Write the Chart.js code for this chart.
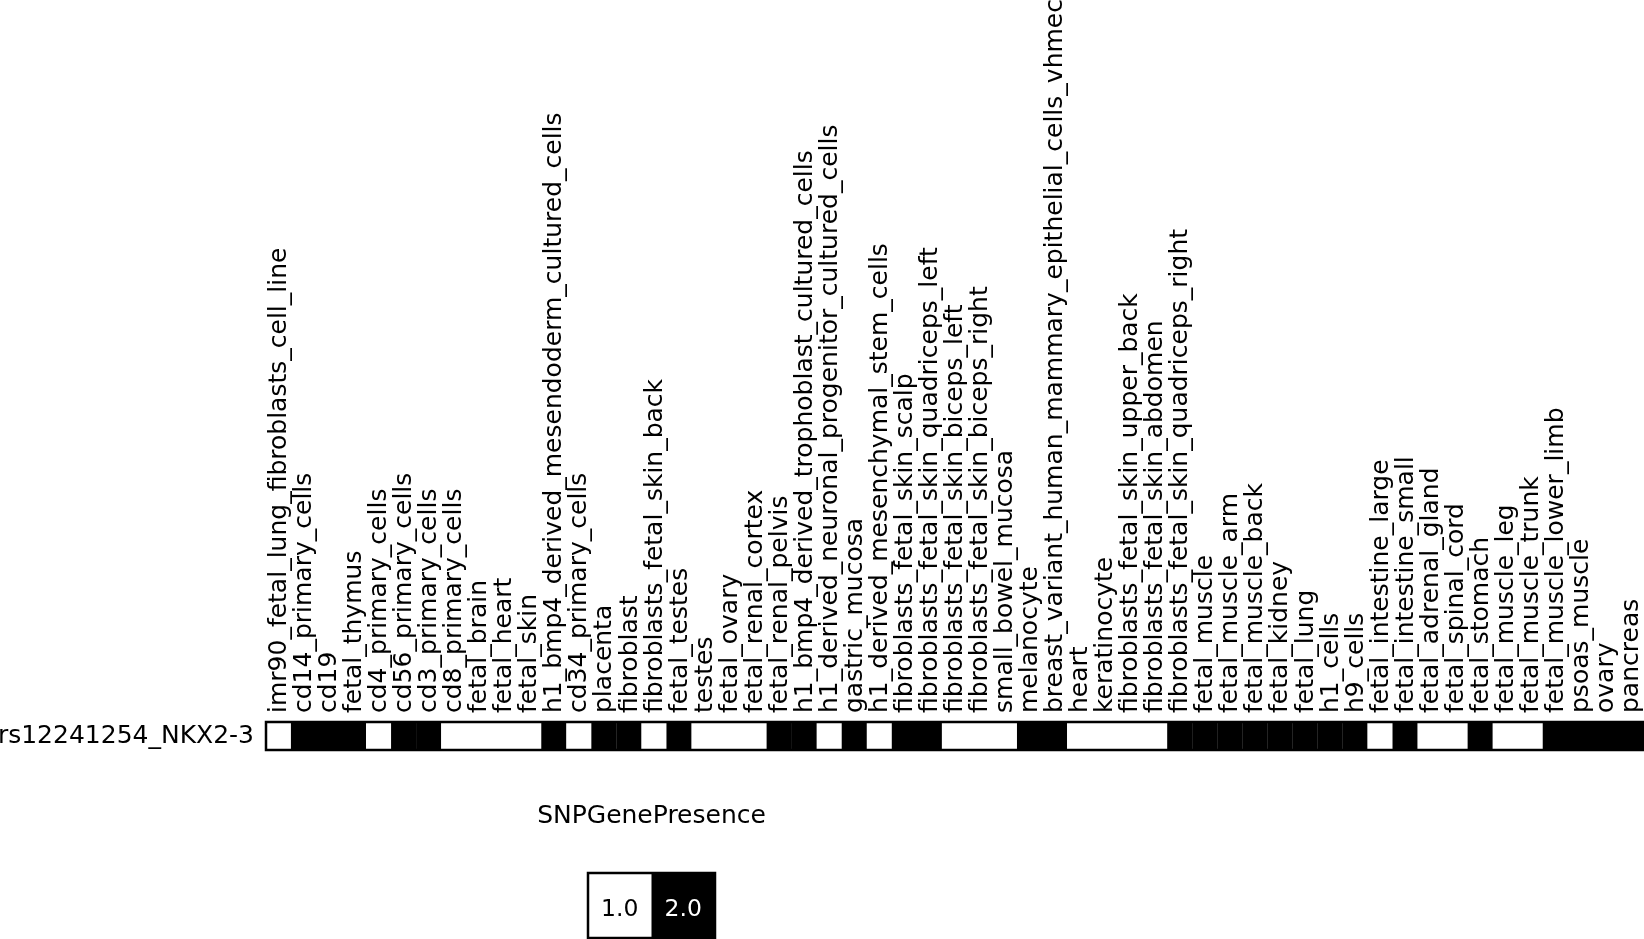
<!DOCTYPE html>
<html>
<head>
<meta charset="utf-8">
<title>rs12241254_NKX2-3</title>
<script src="https://cdn.jsdelivr.net/npm/chart.js@4.4.1/dist/chart.umd.min.js"></script>
<style>
    html, body { margin: 0; padding: 0; background: #fff; }
    #heatmap { display: block; }
</style>
</head>
<body>
<canvas id="heatmap" width="1644" height="939"></canvas>
<script>
// tissues / cell types (columns)
const tissues = [
    'imr90_fetal_lung_fibroblasts_cell_line', 'cd14_primary_cells', 'cd19', 'fetal_thymus',
    'cd4_primary_cells', 'cd56_primary_cells', 'cd3_primary_cells', 'cd8_primary_cells',
    'fetal_brain', 'fetal_heart', 'fetal_skin', 'h1_bmp4_derived_mesendoderm_cultured_cells',
    'cd34_primary_cells', 'placenta', 'fibroblast', 'fibroblasts_fetal_skin_back',
    'fetal_testes', 'testes', 'fetal_ovary', 'fetal_renal_cortex', 'fetal_renal_pelvis',
    'h1_bmp4_derived_trophoblast_cultured_cells', 'h1_derived_neuronal_progenitor_cultured_cells',
    'gastric_mucosa', 'h1_derived_mesenchymal_stem_cells', 'fibroblasts_fetal_skin_scalp',
    'fibroblasts_fetal_skin_quadriceps_left', 'fibroblasts_fetal_skin_biceps_left',
    'fibroblasts_fetal_skin_biceps_right', 'small_bowel_mucosa', 'melanocyte',
    'breast_variant_human_mammary_epithelial_cells_vhmec', 'heart', 'keratinocyte',
    'fibroblasts_fetal_skin_upper_back', 'fibroblasts_fetal_skin_abdomen',
    'fibroblasts_fetal_skin_quadriceps_right', 'fetal_muscle', 'fetal_muscle_arm',
    'fetal_muscle_back', 'fetal_kidney', 'fetal_lung', 'h1_cells', 'h9_cells',
    'fetal_intestine_large', 'fetal_intestine_small', 'fetal_adrenal_gland', 'fetal_spinal_cord',
    'fetal_stomach', 'fetal_muscle_leg', 'fetal_muscle_trunk', 'fetal_muscle_lower_limb',
    'psoas_muscle', 'ovary', 'pancreas'
];

// row label
const rowLabels = ['rs12241254_NKX2-3'];

// SNPGenePresence per tissue (1.0 = white, 2.0 = black)
const snpPresence = [
    1, 2, 2, 2, 1, 2, 2, 1, 1, 1, 1, 2, 1, 2, 2, 1, 2, 1, 1, 1,
    2, 2, 1, 2, 1, 2, 2, 1, 1, 1, 2, 2, 1, 1, 1, 1, 2, 2, 2, 2,
    2, 2, 2, 2, 1, 2, 1, 1, 2, 1, 1, 2, 2, 2, 2
];

// legend
const legendTitle = 'SNPGenePresence';
const legendValues = [1, 2];
const legendLabels = ['1.0', '2.0'];
const legendColors = ['#ffffff', '#000000'];

const FONT = 'DejaVu Sans';

function colorFor(v) {
    return legendColors[legendValues.indexOf(v)];
}

// рамка вокруг тепловой карты
const framePlugin = {
    id: 'frame',
    afterDatasetsDraw(chart) {
        const a = chart.chartArea;
        const ctx = chart.ctx;
        ctx.save();
        ctx.strokeStyle = '#000';
        ctx.lineWidth = 2.5;
        ctx.strokeRect(a.left, a.top, a.right - a.left, a.bottom - a.top);
        ctx.restore();
    }
};

// дискретная легенда снизу
const legendPlugin = {
    id: 'presenceLegend',
    afterDraw(chart) {
        const ctx = chart.ctx;
        const left = 588, top = 873, w = 63.5, h = 65;
        ctx.save();
        ctx.fillStyle = '#000';
        ctx.font = '25px "' + FONT + '"';
        ctx.textAlign = 'center';
        ctx.textBaseline = 'middle';
        ctx.fillText(legendTitle, left + w * legendValues.length / 2, 816);

        legendValues.forEach((v, i) => {
            ctx.fillStyle = legendColors[i];
            ctx.fillRect(left + i * w, top, w, h);
            ctx.fillStyle = v === 2 ? '#fff' : '#000';
            ctx.font = '23.5px "' + FONT + '"';
            ctx.fillText(legendLabels[i], left + i * w + w / 2, top + h / 2 + 4);
        });
        ctx.strokeStyle = '#000';
        ctx.lineWidth = 2.5;
        ctx.strokeRect(left, top, w * legendValues.length, h);
        ctx.restore();
    }
};

const chart = new Chart(document.getElementById('heatmap').getContext('2d'), {
    type: 'bar',
    data: {
        labels: tissues,
        datasets: [{
            label: rowLabels[0],
            data: snpPresence.map(() => [0, 1]),
            backgroundColor: snpPresence.map(colorFor),
            borderWidth: 0,
            categoryPercentage: 1,
            barPercentage: 1.01
        }]
    },
    options: {
        responsive: false,
        animation: false,
        devicePixelRatio: 1,
        layout: {
            padding: { left: 0, right: 1, top: 0, bottom: 189 }
        },
        plugins: {
            legend: { display: false },
            tooltip: { enabled: false }
        },
        scales: {
            x: {
                position: 'top',
                grid: { display: false, drawTicks: false },
                border: { display: false },
                ticks: {
                    autoSkip: false,
                    minRotation: 90,
                    maxRotation: 90,
                    padding: 9,
                    labelOffset: 31,
                    color: '#000',
                    font: { family: FONT, size: 25 }
                },
                afterFit(scale) {
                    scale.height = 722;
                    scale.paddingLeft = 0;
                    scale.paddingRight = 0;
                }
            },
            y: {
                min: 0,
                max: 1,
                grid: { display: false, drawTicks: false },
                border: { display: false },
                afterBuildTicks(scale) {
                    scale.ticks = [{ value: 0.5 }];
                },
                ticks: {
                    padding: 12,
                    color: '#000',
                    font: { family: FONT, size: 25 },
                    callback: () => rowLabels[0]
                },
                afterFit(scale) {
                    scale.width = 266;
                }
            }
        }
    },
    plugins: [framePlugin, legendPlugin]
});
</script>
</body>
</html>
